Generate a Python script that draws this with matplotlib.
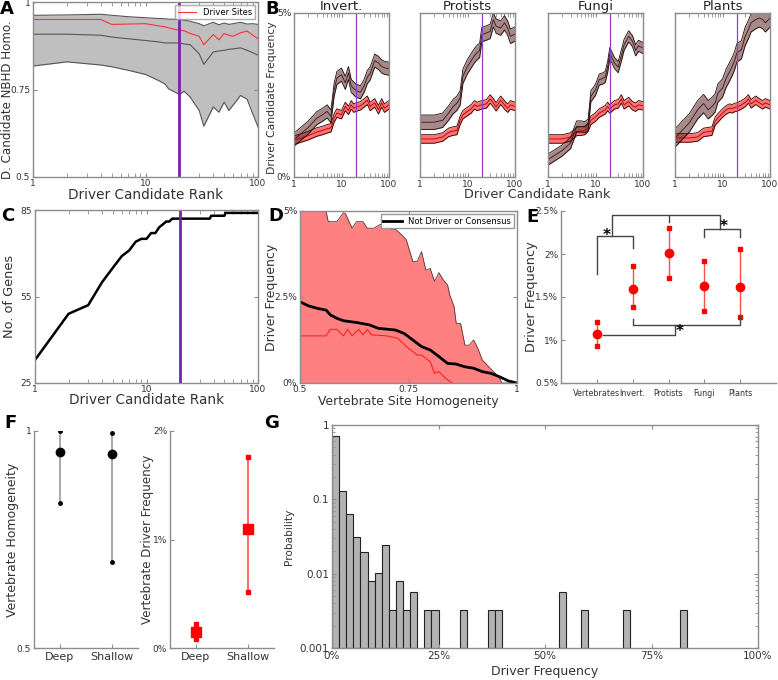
import matplotlib
matplotlib.use("Agg")
import matplotlib.pyplot as plt
import matplotlib.ticker as mticker
import numpy as np

plt.rcParams['font.family'] = ['DejaVu Sans']
plt.rcParams['axes.edgecolor'] = '#8c8c8c'
plt.rcParams['xtick.color'] = '#8c8c8c'
plt.rcParams['ytick.color'] = '#8c8c8c'
plt.rcParams['xtick.labelcolor'] = '#333333'
plt.rcParams['ytick.labelcolor'] = '#333333'
plt.rcParams['xtick.direction'] = 'in'
plt.rcParams['ytick.direction'] = 'in'
plt.rcParams['axes.linewidth'] = 1.0

# ---- panel A data (rank vs neighbourhood homogeneity)
a_rank = [1, 2, 4, 5, 7, 10, 13, 15, 16, 20, 22, 25, 30, 33, 40, 45, 50, 55, 60, 70, 80, 90, 100]
a_upper = [0.962, 0.963, 0.965, 0.962, 0.958, 0.955, 0.953, 0.952, 0.951, 0.950, 0.948, 0.945, 0.938,
           0.932, 0.942, 0.935, 0.940, 0.936, 0.938, 0.942, 0.937, 0.938, 0.936]
a_driver = [0.950, 0.950, 0.950, 0.936, 0.937, 0.938, 0.932, 0.929, 0.926, 0.919, 0.918, 0.910, 0.902,
            0.878, 0.907, 0.892, 0.910, 0.905, 0.902, 0.912, 0.917, 0.905, 0.895]
a_median = [0.908, 0.908, 0.905, 0.900, 0.895, 0.890, 0.886, 0.883, 0.883, 0.883, 0.880, 0.878, 0.852,
            0.822, 0.857, 0.860, 0.862, 0.865, 0.866, 0.869, 0.862, 0.855, 0.848]
a_lower = [0.817, 0.829, 0.820, 0.815, 0.805, 0.793, 0.776, 0.765, 0.752, 0.736, 0.745, 0.728, 0.690,
           0.645, 0.700, 0.685, 0.714, 0.690, 0.705, 0.733, 0.722, 0.680, 0.643]

# ---- panel B data (driver candidate frequency, %), centre and half width
b_titles = ['Invert.', 'Protists', 'Fungi', 'Plants']
b_rank = [1, 2, 3, 4, 5, 6, 7, 8, 10, 12, 14, 16, 18, 20, 25, 30, 35, 40, 50, 60, 70, 80, 100]
b_brown = {
    'Invert.': [1.14, 1.51, 1.79, 1.90, 2.00, 1.85, 2.66, 3.02, 3.12, 2.87, 3.17, 2.78, 2.70, 2.64, 2.58,
                2.78, 3.05, 3.15, 3.55, 3.48, 3.37, 3.33, 3.30],
    'Protists': [1.67, 1.67, 1.73, 1.95, 2.15, 2.25, 2.41, 3.07, 3.37, 3.55, 3.70, 3.80, 3.86, 4.34, 4.39,
                 4.44, 4.80, 4.60, 4.54, 4.70, 4.54, 4.29, 4.36],
    'Fungi': [0.53, 0.81, 1.04, 1.54, 1.54, 1.52, 1.60, 2.46, 2.66, 2.97, 3.00, 3.05, 3.35, 3.78, 3.48,
              3.35, 3.70, 4.03, 4.29, 4.14, 3.86, 4.00, 3.93],
    'Plants': [1.19, 1.65, 2.05, 2.24, 2.05, 2.15, 2.26, 2.56, 2.71, 3.02, 3.20, 3.37, 3.55, 3.78, 3.88,
               4.29, 4.49, 4.70, 4.80, 4.85, 4.80, 4.70, 4.85],
}
b_brown_hw = {'Invert.': 0.20, 'Protists': 0.22, 'Fungi': 0.17, 'Plants': 0.28}
b_red = {
    'Invert.': [1.12, 1.26, 1.37, 1.42, 1.47, 1.50, 1.80, 1.95, 1.90, 2.15, 2.03, 2.20, 2.10, 2.13, 2.17,
                2.26, 2.34, 2.15, 2.26, 2.05, 2.26, 2.10, 2.20],
    'Protists': [1.16, 1.16, 1.22, 1.36, 1.40, 1.42, 1.73, 1.90, 2.00, 2.08, 2.20, 2.15, 2.18, 2.20, 2.23,
                 2.38, 2.26, 2.14, 2.34, 2.20, 2.10, 2.20, 2.15],
    'Fungi': [1.16, 1.16, 1.22, 1.39, 1.40, 1.42, 1.52, 1.73, 1.83, 1.95, 2.00, 2.05, 2.15, 2.07, 2.20,
              2.23, 2.38, 2.20, 2.30, 2.17, 2.13, 2.20, 2.17],
    'Plants': [1.19, 1.19, 1.22, 1.36, 1.38, 1.40, 1.70, 1.80, 1.95, 2.05, 2.10, 2.08, 2.12, 2.13, 2.20,
               2.27, 2.38, 2.23, 2.34, 2.26, 2.20, 2.26, 2.20],
}
b_red_hw = 0.13

# ---- panel C data
c_rank = [1, 2, 3, 4, 5, 6, 7, 8, 9, 10, 11, 12, 13, 14, 15, 16, 17, 37, 38, 50, 51, 100]
c_genes = [33, 49, 52, 60, 65, 69, 71, 74, 75, 75, 77, 77, 79, 80, 81, 81, 82, 82, 83, 83, 84, 84]

# ---- panel D data (driver frequency % vs vertebrate homogeneity)
d_homo_up = [0.5, 0.56, 0.565, 0.585, 0.6, 0.605, 0.62, 0.63, 0.645, 0.655, 0.67, 0.685, 0.695, 0.71,
             0.72, 0.735, 0.745, 0.76, 0.77, 0.78, 0.79, 0.8, 0.81, 0.82, 0.83, 0.84, 0.845, 0.855,
             0.86, 0.87, 0.88, 0.89, 0.9, 0.91, 0.92, 0.935, 0.95, 0.96, 0.965, 1.0]
d_upper = [5.0, 5.0, 4.69, 4.69, 4.95, 4.92, 4.5, 4.69, 4.69, 4.5, 4.5, 4.61, 4.6, 4.47,
           4.47, 4.3, 4.16, 3.53, 3.53, 3.82, 3.28, 3.33, 2.95, 3.21, 3.0, 2.85, 2.56, 2.22,
           1.73, 1.73, 1.1, 1.1, 1.25, 1.0, 0.67, 0.47, 0.28, 0.14, 0.0, 0.0]
d_homo_red = [0.5, 0.56, 0.57, 0.585, 0.6, 0.61, 0.62, 0.635, 0.645, 0.655, 0.665, 0.7, 0.725, 0.745,
              0.77, 0.78, 0.8, 0.81, 0.82, 0.835, 0.85]
d_red = [1.37, 1.37, 1.56, 1.56, 1.37, 1.56, 1.37, 1.56, 1.40, 1.56, 1.40, 1.37, 1.30, 1.06,
         0.81, 0.81, 0.62, 0.28, 0.33, 0.14, 0.0]
d_homo_blk = [0.5, 0.52, 0.54, 0.56, 0.57, 0.585, 0.6, 0.63, 0.66, 0.68, 0.72, 0.74, 0.76, 0.78, 0.8,
              0.82, 0.84, 0.86, 0.88, 0.9, 0.92, 0.94, 0.96, 0.98, 1.0]
d_blk = [2.36, 2.24, 2.17, 2.12, 1.98, 1.88, 1.81, 1.76, 1.69, 1.59, 1.54, 1.44, 1.25, 1.06, 0.96,
         0.77, 0.57, 0.55, 0.47, 0.43, 0.33, 0.28, 0.18, 0.06, 0.0]

# ---- panel E data
e_groups = ['Vertebrates', 'Invert.', 'Protists', 'Fungi', 'Plants']
e_mean = [1.07, 1.59, 2.01, 1.63, 1.62]
e_hi = [1.21, 1.86, 2.30, 1.92, 2.06]
e_lo = [0.925, 1.38, 1.72, 1.34, 1.27]

# ---- panel F data
f_groups = ['Deep', 'Shallow']
f_homo_mean = [0.951, 0.946]
f_homo_hi = [1.0, 0.995]
f_homo_lo = [0.835, 0.699]
f_freq_mean = [0.147, 1.10]
f_freq_hi = [0.224, 1.76]
f_freq_lo = [0.083, 0.52]

# ---- panel G data (histogram, 60 bins over 0-100%)
g_bins = [0, 1, 2, 3, 4, 5, 6, 7, 8, 9, 10, 11, 13, 14, 18, 22, 23, 32, 35, 41, 49]
g_prob = [0.711, 0.129, 0.0633, 0.0303, 0.0187, 0.0069, 0.00925, 0.0232, 0.00229, 0.0069, 0.00229,
          0.00462, 0.00229, 0.00229, 0.00229, 0.00229, 0.00229, 0.00462, 0.00229, 0.00229, 0.00229]

purple = '#7a1fb0'
txt = '#333333'
W, H = 778, 680
fig = plt.figure(figsize=(W / 100, H / 100), dpi=100)
boxes = {}


def px_axes(l, t, r, b):
    ax = fig.add_axes([l / W, 1 - b / H, (r - l) / W, (b - t) / H])
    boxes[ax] = (l, t, r, b)
    return ax


def ylab(ax, s, xpx, size, ypx=None):
    l, t, r, b = boxes[ax]
    ax.set_ylabel(s, fontsize=size, color=txt, va='center')
    yf = 0.5 if ypx is None else (b - ypx) / (b - t)
    ax.yaxis.set_label_coords((xpx - l) / (r - l), yf)


def xlab(ax, s, ypx, size):
    l, t, r, b = boxes[ax]
    ax.set_xlabel(s, fontsize=size, color=txt, va='center')
    ax.xaxis.set_label_coords(0.5, (b - ypx) / (b - t))


def small_ticks(ax, size=6.5):
    ax.tick_params(labelsize=size, length=3, top=True, right=True, which='both', pad=2)


logfmt = mticker.FuncFormatter(lambda v, p: '%g' % v)

# ---------- A
ax = px_axes(33, 2, 258, 177)
ax.fill_between(a_rank, a_lower, a_upper, color='#bfbfbf', lw=0)
ax.plot(a_rank, a_upper, color='#555555', lw=0.8)
ax.plot(a_rank, a_lower, color='#555555', lw=0.8)
ax.plot(a_rank, a_median, color='#555555', lw=0.8)
ax.plot(a_rank, a_driver, color='#ff3030', lw=0.8, label='Driver Sites')
ax.axvline(20, color=purple, lw=2)
ax.set_xscale('log')
ax.set_xlim(1, 100)
ax.set_ylim(0.5, 1)
ax.set_yticks([0.5, 0.75, 1])
ax.set_yticklabels(['0.5', '0.75', '1'])
ax.xaxis.set_major_formatter(logfmt)
small_ticks(ax)
ax.tick_params(axis='x', pad=1.5)
xlab(ax, 'Driver Candidate Rank', 195, 9.8)
ylab(ax, 'D. Candidate NBHD Homo.', 8, 8.6, ypx=100)
leg = ax.legend(loc='upper right', fontsize=6, frameon=True, fancybox=False, handlelength=2.2,
                borderpad=0.3, borderaxespad=0.4)
leg.get_frame().set_edgecolor('#999999')

# ---------- B
b_lefts = [294, 420, 548, 675]
for i, name in enumerate(b_titles):
    l = b_lefts[i]
    ax = px_axes(l, 13, l + 95, 177)
    br = np.array(b_brown[name])
    rd = np.array(b_red[name])
    ax.fill_between(b_rank, rd - b_red_hw, rd + b_red_hw, color='#ff4d4d', alpha=0.8, lw=0)
    ax.plot(b_rank, rd + b_red_hw, color='#2a0000', lw=0.6)
    ax.plot(b_rank, rd - b_red_hw, color='#2a0000', lw=0.6)
    ax.plot(b_rank, rd, color='#aa0000', lw=0.6)
    ax.fill_between(b_rank, br - b_brown_hw[name], np.minimum(br + b_brown_hw[name], 5.0),
                    color='#6b3a3a', alpha=0.6, lw=0)
    ax.plot(b_rank, np.minimum(br + b_brown_hw[name], 5.0), color='#1a0a0a', lw=0.6)
    ax.plot(b_rank, br - b_brown_hw[name], color='#1a0a0a', lw=0.6)
    ax.plot(b_rank, br, color='#3a1515', lw=0.6)
    ax.axvline(20, color='#9040d0', lw=0.9)
    ax.set_xscale('log')
    ax.set_xlim(1, 100)
    ax.set_ylim(0, 5)
    ax.set_yticks([0, 5])
    if i == 0:
        ax.set_yticklabels(['0%', '5%'])
        ylab(ax, 'Driver Candidate Frequency', 272, 7.8, ypx=98)
    else:
        ax.set_yticklabels([])
    ax.xaxis.set_major_formatter(logfmt)
    small_ticks(ax)
    ax.set_title(name, fontsize=9.5, color='#222222', pad=2)
fig.text(537 / W, 1 - 195 / H, 'Driver Candidate Rank', fontsize=9.3, color=txt, ha='center', va='center')

# ---------- C
ax = px_axes(35, 210, 258, 383)
ax.plot(c_rank, c_genes, color='black', lw=1.8)
ax.axvline(20, color=purple, lw=2)
ax.set_xscale('log')
ax.set_xlim(1, 100)
ax.set_ylim(25, 85)
ax.set_yticks([25, 55, 85])
ax.xaxis.set_major_formatter(logfmt)
small_ticks(ax)
ax.tick_params(axis='x', pad=1.5)
xlab(ax, 'Driver Candidate Rank', 400, 9.8)
ylab(ax, 'No. of Genes', 10, 9.3)

# ---------- D
ax = px_axes(300, 211, 517, 383)
ax.fill_between(d_homo_up, 0, d_upper, color='#ff8080', lw=0)
ax.plot(d_homo_up, d_upper, color='#553333', lw=0.6)
ax.plot(d_homo_red, d_red, color='#ff2020', lw=0.8)
ax.plot(d_homo_blk, d_blk, color='black', lw=2, label='Not Driver or Consensus')
ax.set_xlim(0.5, 1)
ax.set_ylim(0, 5)
ax.set_xticks([0.5, 0.75, 1])
ax.set_xticklabels(['0.5', '0.75', '1'])
ax.set_yticks([0, 2.5, 5])
ax.set_yticklabels(['0%', '2.5%', '5%'])
small_ticks(ax)
ax.tick_params(axis='x', pad=1.5)
xlab(ax, 'Vertebrate Site Homogeneity', 401, 8.9)
ylab(ax, 'Driver Frequency', 271, 9)
leg = ax.legend(loc='upper right', fontsize=6, frameon=True, fancybox=False, handlelength=2.2,
                borderpad=0.3, borderaxespad=0.4)
leg.get_frame().set_edgecolor('#999999')
leg.get_frame().set_alpha(1)

# ---------- E
ax = px_axes(561, 211, 776, 383)
ex = np.arange(1, len(e_groups) + 1)
ax.vlines(ex, e_lo, e_hi, color='#ff5050', lw=1)
ax.plot(ex, e_hi, 's', color='red', ms=2.5)
ax.plot(ex, e_lo, 's', color='red', ms=2.5)
ax.plot(ex, e_mean, 'o', color='red', ms=6)
bk = '#444444'
ax.plot([1, 1, 2, 2], [1.77, 2.21, 2.21, 2.07], color=bk, lw=1)
ax.plot([1.41, 1.41, 4.43, 4.43], [2.21, 2.45, 2.45, 2.29], color=bk, lw=1)
ax.plot([3, 3], [2.45, 2.37], color=bk, lw=1)
ax.plot([4, 4, 5, 5], [2.20, 2.29, 2.29, 2.20], color=bk, lw=1)
ax.plot([1.16, 3.18, 3.18], [1.06, 1.06, 1.17], color=bk, lw=1)
ax.plot([2, 2, 5, 5], [1.25, 1.17, 1.17, 1.28], color=bk, lw=1)
for sx, sy in [(1.28, 2.22), (4.55, 2.32), (3.3, 1.10)]:
    ax.text(sx, sy, '*', fontsize=11, fontweight='bold', ha='center', va='center')
ax.set_xlim(0, 6)
ax.set_ylim(0.5, 2.5)
ax.set_xticks(ex)
ax.set_xticklabels(e_groups)
ax.set_yticks([0.5, 1, 1.5, 2, 2.5])
ax.set_yticklabels(['0.5%', '1%', '1.5%', '2%', '2.5%'])
ax.tick_params(labelsize=6.5, length=3, pad=2)
ax.tick_params(axis='x', labelsize=5.8, pad=4)
ax.spines['top'].set_visible(False)
ax.spines['right'].set_visible(False)
ylab(ax, 'Driver Frequency', 531, 9.3)

# ---------- F
fx = np.arange(1, len(f_groups) + 1)
ax = px_axes(34, 431, 138, 648)
ax.vlines(fx, f_homo_lo, f_homo_hi, color='#999999', lw=1.2)
ax.plot(fx, f_homo_hi, 'o', color='black', ms=2.5)
ax.plot(fx, f_homo_lo, 'o', color='black', ms=2.5)
ax.plot(fx, f_homo_mean, 'o', color='black', ms=6)
ax.set_xlim(0.5, 2.5)
ax.set_ylim(0.5, 1)
ax.set_yticks([0.5, 1])
ax.set_yticklabels(['0.5', '1'])
ax.set_xticks(fx)
ax.set_xticklabels(f_groups)
ax.tick_params(axis='y', labelsize=6.5, length=3, pad=2)
ax.tick_params(axis='x', labelsize=8, length=3, pad=3)
ax.spines['top'].set_visible(False)
ax.spines['right'].set_visible(False)
ylab(ax, 'Vertebrate Homogeneity', 12, 9)

ax = px_axes(170, 431, 274, 648)
ax.vlines(fx, f_freq_lo, f_freq_hi, color='#ff5050', lw=1.2)
ax.plot(fx, f_freq_hi, 's', color='red', ms=3)
ax.plot(fx, f_freq_lo, 's', color='red', ms=3)
ax.plot(fx, f_freq_mean, 's', color='red', ms=7)
ax.set_xlim(0.5, 2.5)
ax.set_ylim(0, 2)
ax.set_yticks([0, 1, 2])
ax.set_yticklabels(['0%', '1%', '2%'])
ax.set_xticks(fx)
ax.set_xticklabels(f_groups)
ax.tick_params(axis='y', labelsize=6.5, length=3, pad=2)
ax.tick_params(axis='x', labelsize=8, length=3, pad=3)
ax.spines['top'].set_visible(False)
ax.spines['right'].set_visible(False)
ylab(ax, 'Vertebrate Driver Frequency', 148, 8.6)

# ---------- G
ax = px_axes(332, 425, 758, 648)
bw = 100 / 60
g_left = [b * bw for b in g_bins]
ax.bar(g_left, g_prob, width=bw, align='edge', bottom=0.001, color='#b3b3b3', edgecolor='#222222', lw=0.8)
ax.set_yscale('log')
ax.set_xlim(0, 100)
ax.set_ylim(0.001, 1)
ax.set_yticks([0.001, 0.01, 0.1, 1])
ax.set_yticklabels(['0.001', '0.01', '0.1', '1'])
ax.set_xticks([0, 25, 50, 75, 100])
ax.set_xticklabels(['0%', '25%', '50%', '75%', '100%'])
ax.tick_params(labelsize=7.5, length=3, top=True, right=True, which='both', pad=2)
ax.tick_params(which='minor', length=2)
xlab(ax, 'Driver Frequency', 672, 9)
ylab(ax, 'Probability', 289, 7.6)

# panel letters
for s, x, y in [('A', 7, 9), ('B', 272, 9), ('C', 8, 216), ('D', 276, 216), ('E', 533, 217),
                ('F', 10, 423), ('G', 272, 423)]:
    fig.text(x / W, 1 - y / H, s, fontsize=13, fontweight='bold', ha='center', va='center')

fig.savefig('out.png', dpi=100)
